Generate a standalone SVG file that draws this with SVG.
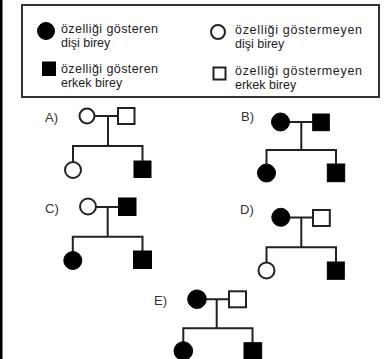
<svg xmlns="http://www.w3.org/2000/svg" width="384" height="359" viewBox="0 0 384 359">
  <style>
    .t { font-family: "Liberation Sans", Arial, sans-serif; font-size: 12.5px; fill: #222; }
    .lbl { font-family: "Liberation Sans", Arial, sans-serif; font-size: 13px; fill: #333; }
    .ln { stroke: #222; stroke-width: 2; fill: none; }
    .open { fill: #fff; stroke: #222; stroke-width: 2; }
    .fill { fill: #000; stroke: #000; stroke-width: 1; }
  </style>
  <rect x="0" y="0" width="384" height="359" fill="#fff"/>
  <rect x="0" y="0" width="2.5" height="359" fill="#000"/>

  <!-- legend -->
  <g id="legend">
    <rect x="22" y="5" width="357" height="92" fill="#fff" stroke="#333" stroke-width="2"/>
    <circle cx="46" cy="31" r="8.5" class="fill"/>
    <text class="t" x="61" y="33" textLength="97">özelliği gösteren</text>
    <text class="t" x="61" y="47">dişi birey</text>
    <rect x="42.5" y="62" width="13" height="13.5" class="fill"/>
    <text class="t" x="61" y="72.5" textLength="97">özelliği gösteren</text>
    <text class="t" x="61" y="86.5">erkek birey</text>
    <circle cx="218" cy="32" r="7" class="open" stroke-width="1.6"/>
    <text class="t" x="235" y="34" textLength="127">özelliği göstermeyen</text>
    <text class="t" x="235" y="48">dişi birey</text>
    <rect x="213.5" y="67.5" width="12" height="12" class="open" stroke-width="1.6"/>
    <text class="t" x="235" y="75" textLength="127">özelliği göstermeyen</text>
    <text class="t" x="235" y="89">erkek birey</text>
  </g>

  <!-- option labels -->
  <g id="labels">
    <text class="lbl" x="45" y="121.5">A)</text>
    <text class="lbl" x="241" y="120.5">B)</text>
    <text class="lbl" x="45" y="213">C)</text>
    <text class="lbl" x="240" y="214">D)</text>
    <text class="lbl" x="154" y="305">E)</text>
  </g>

  <!-- connectors -->
  <g id="connectors">
    <!-- A -->
    <path class="ln" d="M94 116 H118 M108 116 V146 M73 146 H142.5 M73 145 V162 M142.5 145 V161"/>
    <!-- B -->
    <path class="ln" d="M289 122 H313 M301.3 122 V150 M266.5 150 H336 M266.5 149 V164 M336 149 V164"/>
    <!-- C -->
    <path class="ln" d="M96 207 H118.5 M107.7 207 V236.7 M72.8 236.7 H142.5 M72.8 235.7 V252 M142.5 235.7 V251"/>
    <!-- D -->
    <path class="ln" d="M289 217.5 H313 M301.3 217.5 V247.3 M266.5 247.3 H336 M266.5 246.3 V262 M336 246.3 V262"/>
    <!-- E -->
    <path class="ln" d="M205 299.3 H228.5 M216.7 299.3 V328.3 M183.3 328.3 H252.5 M183.3 327.3 V342 M252.5 327.3 V343"/>
  </g>

  <!-- A -->
  <g id="A-mother"><circle cx="87" cy="116" r="7.5" class="open"/></g>
  <g id="A-father"><rect x="118" y="108" width="16.5" height="16" class="open"/></g>
  <g id="A-daughter"><circle cx="73" cy="170" r="8" class="open"/></g>
  <g id="A-son"><rect x="134" y="161" width="17" height="16.5" class="fill"/></g>

  <!-- B -->
  <g id="B-mother"><circle cx="280.5" cy="122" r="9" class="fill"/></g>
  <g id="B-father"><rect x="312.7" y="114" width="16.6" height="16.7" class="fill"/></g>
  <g id="B-daughter"><circle cx="266.5" cy="173" r="9" class="fill"/></g>
  <g id="B-son"><rect x="327.3" y="164" width="17.4" height="17.7" class="fill"/></g>

  <!-- C -->
  <g id="C-mother"><circle cx="88" cy="206.5" r="8" class="open"/></g>
  <g id="C-father"><rect x="118.5" y="198" width="17.5" height="17.5" class="fill"/></g>
  <g id="C-daughter"><circle cx="72.8" cy="260.5" r="9" class="fill"/></g>
  <g id="C-son"><rect x="133.5" y="251" width="18" height="17.5" class="fill"/></g>

  <!-- D -->
  <g id="D-mother"><circle cx="280.8" cy="217.3" r="9" class="fill"/></g>
  <g id="D-father"><rect x="313" y="210" width="16.8" height="16" class="open"/></g>
  <g id="D-daughter"><circle cx="266.5" cy="270.5" r="8" class="open"/></g>
  <g id="D-son"><rect x="327.3" y="262" width="17" height="17.3" class="fill"/></g>

  <!-- E -->
  <g id="E-mother"><circle cx="197" cy="299.2" r="9.3" class="fill"/></g>
  <g id="E-father"><rect x="229" y="291.3" width="17" height="16" class="open"/></g>
  <g id="E-daughter"><circle cx="183.3" cy="351" r="9.3" class="fill"/></g>
  <g id="E-son"><rect x="244" y="342.7" width="17.7" height="18" class="fill"/></g>
</svg>
